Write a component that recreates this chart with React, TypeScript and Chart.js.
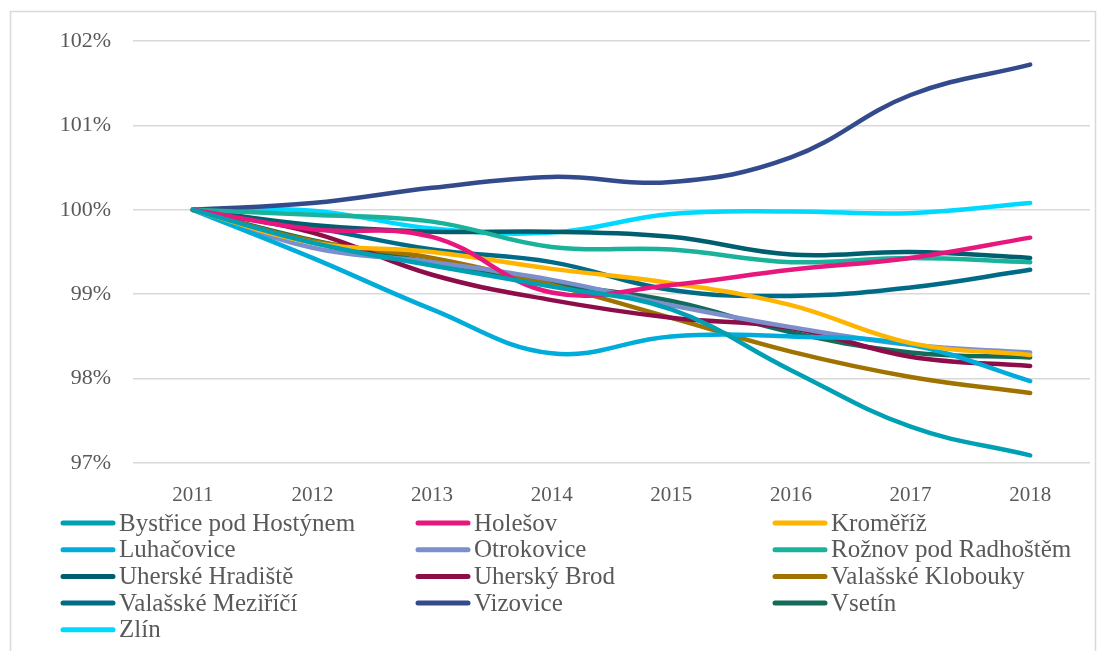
import React, { useEffect, useRef } from "react";
import { Chart, registerables } from "chart.js";

Chart.register(...registerables);

const years = ["2011", "2012", "2013", "2014", "2015", "2016", "2017", "2018"];
const yTicks = [97, 98, 99, 100, 101, 102];

const bystrice = [100, 99.61, 99.34, 99.09, 98.82, 98.1, 97.43, 97.09];
const holesov = [100, 99.77, 99.68, 99.02, 99.11, 99.29, 99.43, 99.67];
const kromeriz = [100, 99.61, 99.5, 99.3, 99.13, 98.87, 98.42, 98.28];
const luhacovice = [100, 99.43, 98.82, 98.3, 98.5, 98.5, 98.4, 97.97];
const otrokovice = [100, 99.55, 99.38, 99.17, 98.87, 98.61, 98.4, 98.31];
const roznov = [100, 99.94, 99.86, 99.56, 99.53, 99.38, 99.43, 99.38];
const uhHradiste = [100, 99.82, 99.74, 99.74, 99.68, 99.47, 99.5, 99.43];
const uhBrod = [100, 99.73, 99.23, 98.93, 98.72, 98.6, 98.26, 98.15];
const valKlobouky = [100, 99.63, 99.43, 99.11, 98.72, 98.32, 98.02, 97.83];
const valMezirici = [100, 99.79, 99.53, 99.38, 99.05, 98.98, 99.08, 99.29];
const vizovice = [100, 100.08, 100.26, 100.39, 100.33, 100.62, 101.36, 101.72];
const vsetin = [100, 99.64, 99.38, 99.13, 98.92, 98.55, 98.31, 98.25];
const zlin = [100, 99.99, 99.78, 99.73, 99.95, 99.98, 99.96, 100.08];

const seriesNames = [
  "Bystřice pod Hostýnem",
  "Holešov",
  "Kroměříž",
  "Luhačovice",
  "Otrokovice",
  "Rožnov pod Radhoštěm",
  "Uherské Hradiště",
  "Uherský Brod",
  "Valašské Klobouky",
  "Valašské Meziříčí",
  "Vizovice",
  "Vsetín",
  "Zlín",
];
const seriesValues = [
  bystrice, holesov, kromeriz, luhacovice, otrokovice, roznov, uhHradiste,
  uhBrod, valKlobouky, valMezirici, vizovice, vsetin, zlin,
];
const seriesColors = [
  "#00a0b4", "#e8177e", "#ffb400", "#00acd9", "#7a8fcc", "#1ab29b", "#005f6e",
  "#8c0d48", "#a07300", "#006b87", "#334b8c", "#136b5a", "#00d9ff",
];

const FONT = '"Liberation Serif", "Times New Roman", serif';
const TEXT = "#595959";

const framePlugin = {
  id: "frame",
  beforeDraw(chart: any) {
    const ctx = chart.ctx;
    ctx.save();
    ctx.fillStyle = "#ffffff";
    ctx.fillRect(0, 0, chart.width, chart.height);
    ctx.strokeStyle = "#d9d9d9";
    ctx.lineWidth = 1.5;
    ctx.strokeRect(10.5, 11.5, 1085, 650);
    ctx.restore();
  },
};

const gridLegendPlugin = {
  id: "gridLegend",
  afterDraw(chart: any) {
    const ctx = chart.ctx;
    ctx.save();
    ctx.font = `25px ${FONT}`;
    ctx.fillStyle = TEXT;
    ctx.textBaseline = "middle";
    ctx.textAlign = "left";
    const colX = [60, 415, 772];
    chart.data.datasets.forEach((ds: any, i: number) => {
      const col = i % 3;
      const row = Math.floor(i / 3);
      const x = colX[col];
      const y = 523 + row * 26.7;
      ctx.strokeStyle = ds.borderColor;
      ctx.lineWidth = 5;
      ctx.lineCap = "round";
      ctx.beginPath();
      ctx.moveTo(x + 3, y);
      ctx.lineTo(x + 53, y);
      ctx.stroke();
      ctx.fillText(ds.label, x + 59, y + 1);
    });
    ctx.restore();
  },
};

export default function App() {
  const ref = useRef<HTMLCanvasElement>(null);

  useEffect(() => {
    if (!ref.current) return;
    const chart = new Chart(ref.current, {
      type: "line",
      data: {
        labels: years,
        datasets: seriesNames.map((name, i) => ({
          label: name,
          data: seriesValues[i],
          borderColor: seriesColors[i],
          backgroundColor: seriesColors[i],
          borderWidth: 4.5,
          borderCapStyle: "round",
          borderJoinStyle: "round",
          pointRadius: 0,
          pointHoverRadius: 0,
          tension: 0.4,
          fill: false,
          clip: false as any,
        })),
      },
      options: {
        responsive: false,
        animation: false,
        layout: { padding: { left: 0, right: 15, top: 41, bottom: 143 } },
        plugins: {
          legend: { display: false },
          tooltip: { enabled: false },
          title: { display: false },
        },
        scales: {
          x: {
            offset: true,
            grid: { display: false, drawTicks: false },
            border: { display: false },
            ticks: {
              color: TEXT,
              font: { family: FONT, size: 21 },
              padding: 20,
              maxRotation: 0,
            },
            afterFit(scale: any) {
              scale.height = 45;
            },
          },
          y: {
            min: 97,
            max: 102,
            afterBuildTicks(scale: any) {
              scale.ticks = yTicks.map((v) => ({ value: v }));
            },
            grid: { color: "#d9d9d9", lineWidth: 1.5, drawTicks: false },
            border: { display: false },
            ticks: {
              color: TEXT,
              font: { family: FONT, size: 22 },
              padding: 22,
              callback: (v: any) => `${v}%`,
            },
            afterFit(scale: any) {
              scale.width = 133;
            },
          },
        },
      },
      plugins: [framePlugin, gridLegendPlugin],
    });
    return () => chart.destroy();
  }, []);

  return (
    <div style={{ position: "absolute", left: 0, top: 0, width: 1105, height: 651 }}>
      <canvas ref={ref} width={1105} height={651} style={{ display: "block" }} />
    </div>
  );
}
